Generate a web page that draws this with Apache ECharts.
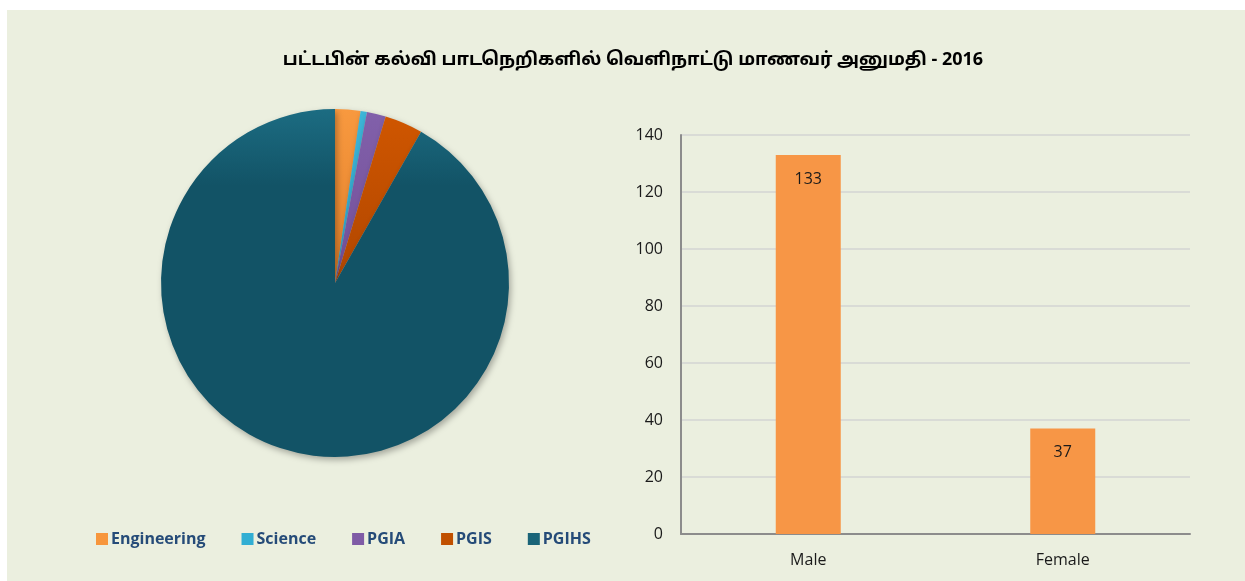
<!DOCTYPE html>
<html><head><meta charset="utf-8">
<script src="https://cdn.jsdelivr.net/npm/echarts@6/dist/echarts.min.js"></script>
<style>
html,body{margin:0;padding:0;background:#ffffff;}
#c{position:absolute;left:7px;top:10px;width:1238px;height:571px;}
</style></head>
<body><div id="c"></div>
<script>
const titleText = 'பட்டபின் கல்வி பாடநெறிகளில் வெளிநாட்டு மாணவர் அனுமதி - 2016';
const courseNames = ['Engineering','Science','PGIA','PGIS','PGIHS'];
const courseValues = [4, 1, 3, 6, 156];
const genderNames = ['Male','Female'];
const genderValues = [133, 37];
const yTicks = [0, 20, 40, 60, 80, 100, 120, 140];

function grad(top, bottom, split) {
  return new echarts.graphic.LinearGradient(0,0,0,1,[
    {offset:0,color:top},{offset:split,color:bottom},{offset:1,color:bottom}]);
}
const sliceColors = [
  grad('#F8993F','#E2802A',1),
  grad('#3DB6D8','#2E9CC0',1),
  grad('#8160AA','#734F98',1),
  grad('#CF5600','#B04600',1),
  grad('#1C6C82','#125366',0.22)
];
const legendColors = ['#F7963C','#31AED3','#7F5BA6','#C05000','#1A6478'];

const chart = echarts.init(document.getElementById('c'));
chart.setOption({
  backgroundColor:'#EBEFDF',
  animation:false,
  title:{text:titleText,left:621,top:37,textAlign:'center',
    textStyle:{fontFamily:'"Noto Sans Tamil","Latha",sans-serif',fontSize:18,fontWeight:'bold',color:'#000'}},
  legend:{data:courseNames.map((n,i)=>({name:n,itemStyle:{color:legendColors[i]}})),
    left:84,top:516,itemWidth:12,itemHeight:12,itemGap:36,icon:'rect',
    textStyle:{fontFamily:'"Open Sans",sans-serif',fontSize:16,fontWeight:'bold',color:'#254B78',padding:[0,0,0,-2]}},
  grid:{left:674,right:55,top:125,bottom:47},
  xAxis:{type:'category',data:genderNames,
    axisLine:{lineStyle:{color:'#8C8C8C',width:2}},axisTick:{show:false},
    axisLabel:{fontFamily:'"Open Sans",sans-serif',fontSize:16,color:'#1a1a1a',margin:18}},
  yAxis:{type:'value',min:0,max:140,interval:20,
    axisLine:{show:true,lineStyle:{color:'#8C8C8C',width:2}},axisTick:{show:false},
    splitLine:{lineStyle:{color:'#D9DBD6',width:2}},
    axisLabel:{fontFamily:'"Open Sans",sans-serif',fontSize:16,color:'#1a1a1a',margin:18,
      formatter:v=>yTicks.includes(v)?String(v):''}},
  series:[
    {type:'pie',center:[328,273],radius:174,startAngle:90,clockwise:true,
      label:{show:false},labelLine:{show:false},
      itemStyle:{borderWidth:0,shadowBlur:6,shadowOffsetX:2,shadowOffsetY:3,shadowColor:'rgba(0,0,0,0.3)'},
      data:courseNames.map((n,i)=>({name:n,value:courseValues[i],itemStyle:{color:sliceColors[i]}}))},
    {type:'bar',data:genderValues,barWidth:65,
      itemStyle:{color:'#F79646'},
      label:{show:true,position:'insideTop',distance:16,fontFamily:'"Open Sans",sans-serif',fontSize:16,color:'#1a1a1a'}}
  ]
});
</script></body></html>
